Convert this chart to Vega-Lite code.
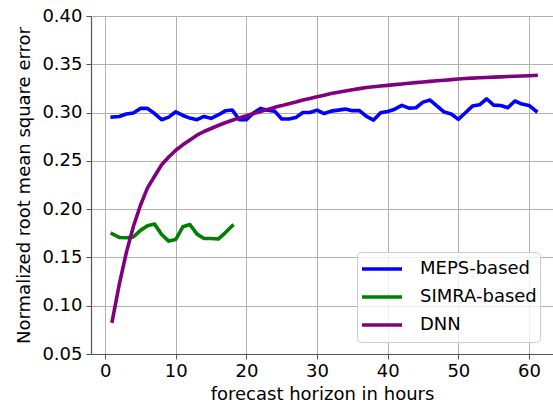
{
  "$schema": "https://vega.github.io/schema/vega-lite/v6.json",
  "autosize": {"type": "none"},
  "padding": {"left": 91, "top": 16, "right": 0, "bottom": 49},
  "width": 462,
  "height": 338,
  "background": "white",
  "config": {
    "view": {"stroke": null},
    "font": "DejaVu Sans",
    "axis": {
      "labelFont": "DejaVu Sans",
      "titleFont": "DejaVu Sans",
      "labelFontSize": 18,
      "titleFontSize": 18,
      "labelColor": "#000",
      "titleColor": "#000",
      "titleFontWeight": "normal",
      "domainColor": "#555",
      "domainWidth": 1.2,
      "tickColor": "#555",
      "tickSize": 5,
      "gridColor": "#b0b0b0",
      "gridWidth": 1
    },
    "legend": {
      "labelFont": "DejaVu Sans",
      "labelFontSize": 18,
      "labelColor": "#000"
    }
  },
  "datasets": {
    "series": [
      {"h": 1, "v": 0.2953, "s": "MEPS-based"},
      {"h": 2, "v": 0.296, "s": "MEPS-based"},
      {"h": 3, "v": 0.2985, "s": "MEPS-based"},
      {"h": 4, "v": 0.2995, "s": "MEPS-based"},
      {"h": 5, "v": 0.3043, "s": "MEPS-based"},
      {"h": 6, "v": 0.3043, "s": "MEPS-based"},
      {"h": 7, "v": 0.299, "s": "MEPS-based"},
      {"h": 8, "v": 0.2926, "s": "MEPS-based"},
      {"h": 9, "v": 0.2953, "s": "MEPS-based"},
      {"h": 10, "v": 0.3008, "s": "MEPS-based"},
      {"h": 11, "v": 0.297, "s": "MEPS-based"},
      {"h": 12, "v": 0.2943, "s": "MEPS-based"},
      {"h": 13, "v": 0.2926, "s": "MEPS-based"},
      {"h": 14, "v": 0.296, "s": "MEPS-based"},
      {"h": 15, "v": 0.294, "s": "MEPS-based"},
      {"h": 16, "v": 0.2975, "s": "MEPS-based"},
      {"h": 17, "v": 0.3018, "s": "MEPS-based"},
      {"h": 18, "v": 0.3027, "s": "MEPS-based"},
      {"h": 19, "v": 0.2925, "s": "MEPS-based"},
      {"h": 20, "v": 0.2925, "s": "MEPS-based"},
      {"h": 21, "v": 0.2995, "s": "MEPS-based"},
      {"h": 22, "v": 0.3043, "s": "MEPS-based"},
      {"h": 23, "v": 0.3025, "s": "MEPS-based"},
      {"h": 24, "v": 0.3015, "s": "MEPS-based"},
      {"h": 25, "v": 0.2933, "s": "MEPS-based"},
      {"h": 26, "v": 0.2933, "s": "MEPS-based"},
      {"h": 27, "v": 0.295, "s": "MEPS-based"},
      {"h": 28, "v": 0.3, "s": "MEPS-based"},
      {"h": 29, "v": 0.3, "s": "MEPS-based"},
      {"h": 30, "v": 0.3025, "s": "MEPS-based"},
      {"h": 31, "v": 0.299, "s": "MEPS-based"},
      {"h": 32, "v": 0.3015, "s": "MEPS-based"},
      {"h": 33, "v": 0.3025, "s": "MEPS-based"},
      {"h": 34, "v": 0.3036, "s": "MEPS-based"},
      {"h": 35, "v": 0.302, "s": "MEPS-based"},
      {"h": 36, "v": 0.302, "s": "MEPS-based"},
      {"h": 37, "v": 0.296, "s": "MEPS-based"},
      {"h": 38, "v": 0.2922, "s": "MEPS-based"},
      {"h": 39, "v": 0.2998, "s": "MEPS-based"},
      {"h": 40, "v": 0.3012, "s": "MEPS-based"},
      {"h": 41, "v": 0.3035, "s": "MEPS-based"},
      {"h": 42, "v": 0.3074, "s": "MEPS-based"},
      {"h": 43, "v": 0.3046, "s": "MEPS-based"},
      {"h": 44, "v": 0.305, "s": "MEPS-based"},
      {"h": 45, "v": 0.3108, "s": "MEPS-based"},
      {"h": 46, "v": 0.313, "s": "MEPS-based"},
      {"h": 47, "v": 0.3067, "s": "MEPS-based"},
      {"h": 48, "v": 0.3005, "s": "MEPS-based"},
      {"h": 49, "v": 0.2985, "s": "MEPS-based"},
      {"h": 50, "v": 0.293, "s": "MEPS-based"},
      {"h": 51, "v": 0.2998, "s": "MEPS-based"},
      {"h": 52, "v": 0.3067, "s": "MEPS-based"},
      {"h": 53, "v": 0.308, "s": "MEPS-based"},
      {"h": 54, "v": 0.3143, "s": "MEPS-based"},
      {"h": 55, "v": 0.3077, "s": "MEPS-based"},
      {"h": 56, "v": 0.3074, "s": "MEPS-based"},
      {"h": 57, "v": 0.305, "s": "MEPS-based"},
      {"h": 58, "v": 0.312, "s": "MEPS-based"},
      {"h": 59, "v": 0.3088, "s": "MEPS-based"},
      {"h": 60, "v": 0.3074, "s": "MEPS-based"},
      {"h": 61, "v": 0.3015, "s": "MEPS-based"},
      {"h": 1, "v": 0.1745, "s": "SIMRA-based"},
      {"h": 2, "v": 0.1707, "s": "SIMRA-based"},
      {"h": 3, "v": 0.1703, "s": "SIMRA-based"},
      {"h": 4, "v": 0.1712, "s": "SIMRA-based"},
      {"h": 5, "v": 0.178, "s": "SIMRA-based"},
      {"h": 6, "v": 0.1827, "s": "SIMRA-based"},
      {"h": 7, "v": 0.1845, "s": "SIMRA-based"},
      {"h": 8, "v": 0.1738, "s": "SIMRA-based"},
      {"h": 9, "v": 0.1669, "s": "SIMRA-based"},
      {"h": 10, "v": 0.1686, "s": "SIMRA-based"},
      {"h": 11, "v": 0.1817, "s": "SIMRA-based"},
      {"h": 12, "v": 0.1841, "s": "SIMRA-based"},
      {"h": 13, "v": 0.1741, "s": "SIMRA-based"},
      {"h": 14, "v": 0.1696, "s": "SIMRA-based"},
      {"h": 15, "v": 0.1696, "s": "SIMRA-based"},
      {"h": 16, "v": 0.169, "s": "SIMRA-based"},
      {"h": 17, "v": 0.1755, "s": "SIMRA-based"},
      {"h": 18, "v": 0.1827, "s": "SIMRA-based"},
      {"h": 1, "v": 0.084, "s": "DNN"},
      {"h": 2, "v": 0.122, "s": "DNN"},
      {"h": 3, "v": 0.155, "s": "DNN"},
      {"h": 4, "v": 0.182, "s": "DNN"},
      {"h": 5, "v": 0.204, "s": "DNN"},
      {"h": 6, "v": 0.222, "s": "DNN"},
      {"h": 7, "v": 0.234, "s": "DNN"},
      {"h": 8, "v": 0.246, "s": "DNN"},
      {"h": 9, "v": 0.254, "s": "DNN"},
      {"h": 10, "v": 0.261, "s": "DNN"},
      {"h": 11, "v": 0.2666, "s": "DNN"},
      {"h": 12, "v": 0.2716, "s": "DNN"},
      {"h": 13, "v": 0.2766, "s": "DNN"},
      {"h": 14, "v": 0.2804, "s": "DNN"},
      {"h": 15, "v": 0.2835, "s": "DNN"},
      {"h": 16, "v": 0.2866, "s": "DNN"},
      {"h": 17, "v": 0.2895, "s": "DNN"},
      {"h": 18, "v": 0.292, "s": "DNN"},
      {"h": 19, "v": 0.2945, "s": "DNN"},
      {"h": 20, "v": 0.2967, "s": "DNN"},
      {"h": 21, "v": 0.2991, "s": "DNN"},
      {"h": 22, "v": 0.3012, "s": "DNN"},
      {"h": 23, "v": 0.3033, "s": "DNN"},
      {"h": 24, "v": 0.3054, "s": "DNN"},
      {"h": 25, "v": 0.3072, "s": "DNN"},
      {"h": 26, "v": 0.3092, "s": "DNN"},
      {"h": 27, "v": 0.311, "s": "DNN"},
      {"h": 28, "v": 0.313, "s": "DNN"},
      {"h": 29, "v": 0.3146, "s": "DNN"},
      {"h": 30, "v": 0.3163, "s": "DNN"},
      {"h": 31, "v": 0.318, "s": "DNN"},
      {"h": 32, "v": 0.3198, "s": "DNN"},
      {"h": 33, "v": 0.3211, "s": "DNN"},
      {"h": 34, "v": 0.3223, "s": "DNN"},
      {"h": 35, "v": 0.3236, "s": "DNN"},
      {"h": 36, "v": 0.3248, "s": "DNN"},
      {"h": 37, "v": 0.326, "s": "DNN"},
      {"h": 38, "v": 0.3267, "s": "DNN"},
      {"h": 39, "v": 0.3275, "s": "DNN"},
      {"h": 40, "v": 0.3282, "s": "DNN"},
      {"h": 41, "v": 0.3289, "s": "DNN"},
      {"h": 42, "v": 0.3296, "s": "DNN"},
      {"h": 43, "v": 0.3303, "s": "DNN"},
      {"h": 44, "v": 0.331, "s": "DNN"},
      {"h": 45, "v": 0.3316, "s": "DNN"},
      {"h": 46, "v": 0.3323, "s": "DNN"},
      {"h": 47, "v": 0.3329, "s": "DNN"},
      {"h": 48, "v": 0.3335, "s": "DNN"},
      {"h": 49, "v": 0.3341, "s": "DNN"},
      {"h": 50, "v": 0.3347, "s": "DNN"},
      {"h": 51, "v": 0.3352, "s": "DNN"},
      {"h": 52, "v": 0.3357, "s": "DNN"},
      {"h": 53, "v": 0.336, "s": "DNN"},
      {"h": 54, "v": 0.3363, "s": "DNN"},
      {"h": 55, "v": 0.3367, "s": "DNN"},
      {"h": 56, "v": 0.337, "s": "DNN"},
      {"h": 57, "v": 0.3373, "s": "DNN"},
      {"h": 58, "v": 0.3376, "s": "DNN"},
      {"h": 59, "v": 0.3379, "s": "DNN"},
      {"h": 60, "v": 0.3382, "s": "DNN"},
      {"h": 61, "v": 0.3385, "s": "DNN"}
    ]
  },
  "layer": [
    {
      "mark": {"type": "rule", "color": "#555", "strokeWidth": 1.2},
      "encoding": {"y": {"datum": 0.4, "type": "quantitative"}}
    },
    {
      "data": {"name": "series"},
      "mark": {"type": "line", "strokeWidth": 3.6, "strokeCap": "square", "strokeJoin": "round"},
      "encoding": {
        "x": {
          "field": "h",
          "type": "quantitative",
          "scale": {"domain": [-2, 63.4], "nice": false, "zero": false},
          "axis": {
            "title": "forecast horizon in hours",
            "values": [0, 10, 20, 30, 40, 50, 60],
            "labelPadding": 3,
            "titlePadding": 5,
            "grid": true
          }
        },
        "y": {
          "field": "v",
          "type": "quantitative",
          "scale": {"domain": [0.05, 0.4], "nice": false, "zero": false},
          "axis": {
            "title": "Normalized root mean square error",
            "values": [0.05, 0.1, 0.15, 0.2, 0.25, 0.3, 0.35, 0.4],
            "format": ".2f",
            "labelPadding": 4,
            "titlePadding": 8,
            "grid": true
          }
        },
        "color": {
          "field": "s",
          "type": "nominal",
          "sort": ["MEPS-based", "SIMRA-based", "DNN"],
          "scale": {"domain": ["MEPS-based", "SIMRA-based", "DNN"], "range": ["#0000ff", "#008000", "#800080"]},
          "legend": {
            "title": null,
            "orient": "none",
            "legendX": 266,
            "legendY": 236,
            "symbolType": "stroke",
            "symbolSize": 1600,
            "symbolStrokeWidth": 3.6,
            "clipHeight": 28,
            "rowPadding": 0,
            "labelOffset": 16,
            "padding": 3,
            "strokeColor": "#cccccc",
            "fillColor": "rgba(255,255,255,0.8)",
            "cornerRadius": 4
          }
        }
      }
    }
  ]
}
